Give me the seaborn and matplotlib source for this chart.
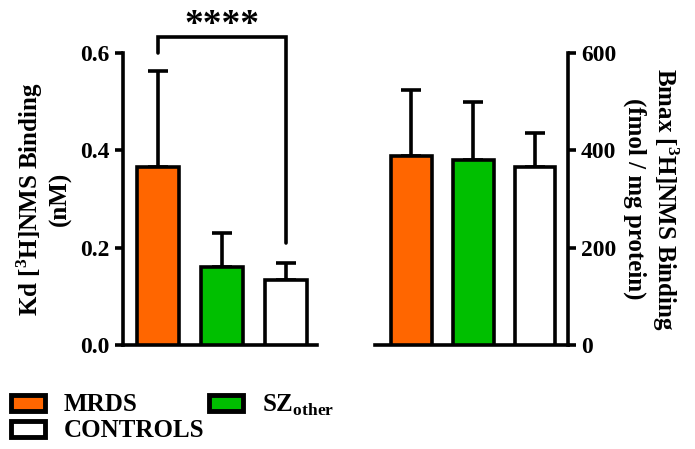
import matplotlib
matplotlib.use('Agg')

import matplotlib.pyplot as plt
import matplotlib.patches as mpatches
import seaborn as sns
import pandas as pd

sns.set_theme(style="ticks")
plt.rcParams['font.family'] = ['Liberation Serif', 'DejaVu Serif']
plt.rcParams['font.weight'] = 'bold'
plt.rcParams['text.color'] = 'black'
plt.rcParams['ytick.labelcolor'] = 'black'
plt.rcParams['axes.labelcolor'] = 'black'
plt.rcParams['mathtext.fontset'] = 'custom'
plt.rcParams['mathtext.rm'] = 'Liberation Serif:bold'
plt.rcParams['mathtext.bf'] = 'Liberation Serif:bold'

# values
groups = ['MRDS', 'SZother', 'CONTROLS']
kd_mean = [0.366, 0.161, 0.134]
kd_sd = [0.198, 0.069, 0.035]
bmax_mean = [389, 380, 366]
bmax_sd = [136, 119, 70]
colors = ['#FF6600', '#00BF00', '#FFFFFF']

df = pd.DataFrame({'group': groups, 'kd': kd_mean, 'bmax': bmax_mean})
pal = dict(zip(groups, colors))

fig = plt.figure(figsize=(6.95, 4.49), dpi=100)
ax1 = fig.add_axes([0.177, 0.2316, 0.279, 0.650])
ax2 = fig.add_axes([0.540, 0.2316, 0.277, 0.650])

lw = 2.6


def draw(ax, col, sd):
    sns.barplot(data=df, x='group', y=col, hue='group', palette=pal,
                order=groups, width=0.66, edgecolor='black', linewidth=lw,
                saturation=1, legend=False, ax=ax, zorder=3)
    ax.errorbar(range(len(groups)), df[col], yerr=[[0] * len(sd), sd],
                fmt='none', ecolor='black', elinewidth=lw, capsize=7,
                capthick=lw, zorder=2)
    ax.set_xlabel('')
    ax.set_xticks([])
    for s in ax.spines.values():
        s.set_linewidth(lw)
        s.set_color('black')
    ax.tick_params(axis='y', width=lw, length=6, labelsize=17, color='black',
                   labelcolor='black')


draw(ax1, 'kd', kd_sd)
ax1.set_ylim(0, 0.6)
ax1.set_yticks([0.0, 0.2, 0.4, 0.6])
ax1.set_yticklabels(['0.0', '0.2', '0.4', '0.6'])
ax1.set_xlim(-0.55, 2.48)
sns.despine(ax=ax1)
ax1.set_ylabel('Kd [$^{3}$H]NMS Binding\n(nM)', fontsize=18, fontweight='bold',
               labelpad=6, color='black')

draw(ax2, 'bmax', bmax_sd)
ax2.set_ylim(0, 600)
ax2.set_yticks([0, 200, 400, 600])
ax2.set_xlim(-0.58, 2.53)
sns.despine(ax=ax2, left=True, right=False)
ax2.yaxis.tick_right()
ax2.yaxis.set_label_position('right')
ax2.set_ylabel('Bmax [$^{3}$H]NMS Binding\n(fmol / mg protein)', fontsize=18,
               fontweight='bold', rotation=270, labelpad=46, color='black')

# significance bracket
ax1.plot([0, 0, 2, 2], [0.6, 0.633, 0.633, 0.21], color='black', lw=lw,
         clip_on=False, solid_joinstyle='miter')
ax1.text(1, 0.657, '****', ha='center', va='center', fontsize=27,
         fontweight='bold')

handles = [mpatches.Patch(facecolor=c, edgecolor='black', linewidth=3.5)
           for c in [colors[0], colors[2], colors[1]]]
labels = ['MRDS', 'CONTROLS', 'SZ$_{\\mathrm{other}}$']
fig.legend(handles, labels, loc='upper left', bbox_to_anchor=(0.016, 0.126),
           ncol=2, frameon=False, fontsize=18, handlelength=1.35,
           handleheight=0.6, columnspacing=0.2, labelspacing=0.12,
           handletextpad=0.75, borderpad=0, borderaxespad=0)

fig.savefig('out.png', dpi=100)
